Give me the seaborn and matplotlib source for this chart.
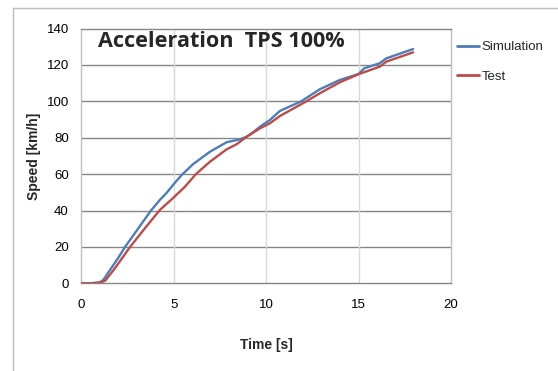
import numpy as np
import pandas as pd
import matplotlib
matplotlib.use("Agg")
import matplotlib.pyplot as plt
from matplotlib.lines import Line2D
import seaborn as sns

# Vehicle speed during full-throttle acceleration
sim_time = [0, 0.5, 1.0, 1.2, 1.5, 2.0, 2.37, 3.0, 3.77, 4.25, 4.6, 5.0, 5.43,
            6.05, 6.96, 7.86, 8.58, 8.94, 9.3, 9.66, 10.2, 10.74, 11.9, 12.9,
            13.98, 15.0, 15.3, 16.14, 16.5, 17.95]
sim_speed = [0, 0, 0.5, 2, 6.5, 14, 20, 29, 40, 45.8, 49.5, 54.5, 59.5,
             65.5, 72.3, 77.5, 79.1, 80.5, 83, 86, 89.7, 94.7, 100, 106.6,
             111.7, 115, 118.1, 120.9, 123.6, 128.7]
test_time = [0, 0.5, 1.0, 1.3, 1.46, 1.8, 2.64, 3.5, 4.25, 5.0, 5.6, 6.2, 6.96,
             7.86, 8.4, 8.94, 9.66, 10.2, 10.74, 12.18, 12.9, 13.98, 15.0,
             16.14, 16.5, 17.95]
test_speed = [0, 0, 0.3, 1.5, 3.6, 8, 20, 31, 40.3, 47.2, 53, 60, 66.8,
              73.6, 76.4, 80.5, 85.1, 87.9, 91.9, 100, 104.4, 110.4, 114.9,
              119, 121.8, 126.9]
series_names = ["Simulation", "Test"]
series_colors = ["#4A7EBB", "#BE4B48"]
x_ticks = [0, 5, 10, 15, 20]
y_ticks = [0, 20, 40, 60, 80, 100, 120, 140]

df = pd.concat([
    pd.DataFrame({"Time": sim_time, "Speed": sim_speed, "Series": series_names[0]}),
    pd.DataFrame({"Time": test_time, "Speed": test_speed, "Series": series_names[1]}),
], ignore_index=True)

sns.set_theme(style="white")
plt.rcParams["font.family"] = ["Liberation Sans", "DejaVu Sans"]

fig = plt.figure(figsize=(5.58, 3.71), dpi=100)
fig.patch.set_facecolor("white")
ax = fig.add_axes([81.3 / 558, 1 - 283.3 / 371, (451 - 81.3) / 558, (283.3 - 28.5) / 371])

sns.lineplot(data=df, x="Time", y="Speed", hue="Series", palette=series_colors,
             hue_order=series_names, sort=False, estimator=None, linewidth=1.7,
             ax=ax, legend=False, zorder=3)

ax.set_xlim(0, 20)
ax.set_ylim(0, 140)
ax.set_xticks(x_ticks)
ax.set_yticks(y_ticks)
ax.tick_params(axis="both", length=0, labelsize=9.5, colors="black")
ax.tick_params(axis="x", pad=11)
ax.tick_params(axis="y", pad=9)

# grid: dark horizontal, light vertical
for y in y_ticks[1:-1]:
    ax.axhline(y, color="#868686", lw=1.0, zorder=1)
for x in x_ticks[1:-1]:
    ax.axvline(x, color="#D9D9D9", lw=1.0, zorder=1)

ax.spines["left"].set_color("#C0C0C0")
ax.spines["right"].set_color("#C0C0C0")
ax.spines["top"].set_color("#868686")
ax.spines["bottom"].set_color("#868686")
for s in ax.spines.values():
    s.set_linewidth(1.0)

ax.set_xlabel("Time [s]", fontsize=10, fontweight="bold", labelpad=20)
ax.set_ylabel("Speed [km/h]", fontsize=10, fontweight="bold", labelpad=4)

ax.text(0.045, 0.99, "Acceleration  TPS 100%", transform=ax.transAxes,
        ha="left", va="top", fontsize=15.6, fontweight="bold",
        family=["Open Sans", "DejaVu Sans"])

handles = [Line2D([], [], color=c, lw=2) for c in series_colors]
fig.legend(handles, series_names, loc="upper left",
           bbox_to_anchor=(457 / 558, 1 - 41 / 371), frameon=False,
           fontsize=9.5, handlelength=1.7, handletextpad=0.15, labelspacing=1.3,
           borderaxespad=0, borderpad=0)

# outer chart frame
fig.add_artist(Line2D([12.5 / 558, 12.5 / 558], [0, 1 - 8 / 371],
                      transform=fig.transFigure, color="#BBBBBB", lw=1.0))
fig.add_artist(Line2D([12.5 / 558, 1], [1 - 8 / 371, 1 - 8 / 371],
                      transform=fig.transFigure, color="#BBBBBB", lw=1.0))

fig.savefig("out.png", dpi=100)
